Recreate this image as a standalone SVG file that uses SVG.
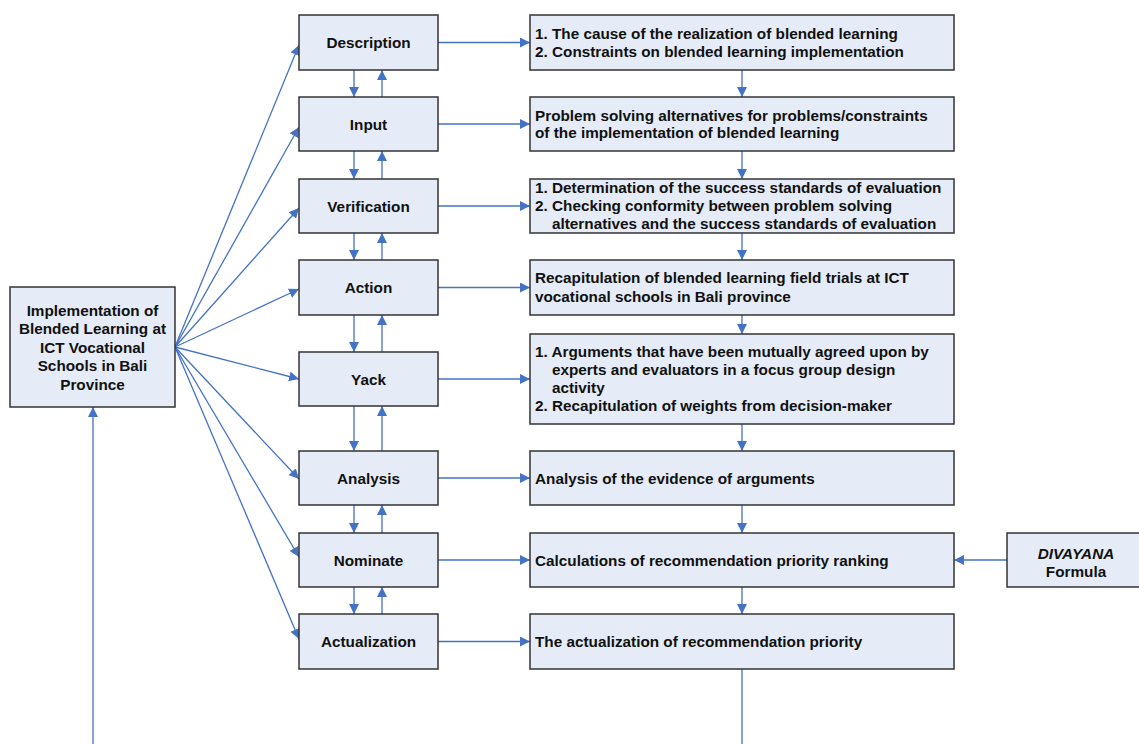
<svg xmlns="http://www.w3.org/2000/svg" width="1139" height="744" viewBox="0 0 1139 744">
<style>
.box{fill:#E5ECF7;stroke:#333;stroke-width:1.5}
.t{font-family:"Liberation Sans",Arial,sans-serif;font-weight:bold;font-size:15.3px;fill:#111}
.c{text-anchor:middle}
.ln{stroke:#4472C4;stroke-width:1.3;fill:none}
</style>
<defs>
<marker id="ah" markerUnits="userSpaceOnUse" markerWidth="10" markerHeight="10" refX="10" refY="5" orient="auto">
<path d="M0,0 L10,5 L0,10 z" fill="#4472C4"/>
</marker>
</defs>
<rect width="1139" height="744" fill="#fff"/>

<g id="connectors">
<line class="ln" x1="175" y1="347" x2="299" y2="45" marker-end="url(#ah)"/>
<line class="ln" x1="175" y1="347" x2="299" y2="127" marker-end="url(#ah)"/>
<line class="ln" x1="175" y1="347" x2="299" y2="208" marker-end="url(#ah)"/>
<line class="ln" x1="175" y1="347" x2="299" y2="289" marker-end="url(#ah)"/>
<line class="ln" x1="175" y1="347" x2="299" y2="379" marker-end="url(#ah)"/>
<line class="ln" x1="175" y1="347" x2="299" y2="479" marker-end="url(#ah)"/>
<line class="ln" x1="175" y1="347" x2="299" y2="557" marker-end="url(#ah)"/>
<line class="ln" x1="175" y1="347" x2="299" y2="639" marker-end="url(#ah)"/>
<line class="ln" x1="354" y1="70" x2="354" y2="97" marker-end="url(#ah)"/>
<line class="ln" x1="382" y1="97" x2="382" y2="70" marker-end="url(#ah)"/>
<line class="ln" x1="354" y1="151" x2="354" y2="179" marker-end="url(#ah)"/>
<line class="ln" x1="382" y1="179" x2="382" y2="151" marker-end="url(#ah)"/>
<line class="ln" x1="354" y1="233" x2="354" y2="260" marker-end="url(#ah)"/>
<line class="ln" x1="382" y1="260" x2="382" y2="233" marker-end="url(#ah)"/>
<line class="ln" x1="354" y1="315" x2="354" y2="352" marker-end="url(#ah)"/>
<line class="ln" x1="382" y1="352" x2="382" y2="315" marker-end="url(#ah)"/>
<line class="ln" x1="354" y1="406" x2="354" y2="451" marker-end="url(#ah)"/>
<line class="ln" x1="382" y1="451" x2="382" y2="406" marker-end="url(#ah)"/>
<line class="ln" x1="354" y1="505" x2="354" y2="533" marker-end="url(#ah)"/>
<line class="ln" x1="382" y1="533" x2="382" y2="505" marker-end="url(#ah)"/>
<line class="ln" x1="354" y1="587" x2="354" y2="614" marker-end="url(#ah)"/>
<line class="ln" x1="382" y1="614" x2="382" y2="587" marker-end="url(#ah)"/>
<line class="ln" x1="438" y1="42.5" x2="530" y2="42.5" marker-end="url(#ah)"/>
<line class="ln" x1="438" y1="124" x2="530" y2="124" marker-end="url(#ah)"/>
<line class="ln" x1="438" y1="206" x2="530" y2="206" marker-end="url(#ah)"/>
<line class="ln" x1="438" y1="287.5" x2="530" y2="287.5" marker-end="url(#ah)"/>
<line class="ln" x1="438" y1="379" x2="530" y2="379" marker-end="url(#ah)"/>
<line class="ln" x1="438" y1="478" x2="530" y2="478" marker-end="url(#ah)"/>
<line class="ln" x1="438" y1="560" x2="530" y2="560" marker-end="url(#ah)"/>
<line class="ln" x1="438" y1="641.5" x2="530" y2="641.5" marker-end="url(#ah)"/>
<line class="ln" x1="742" y1="70" x2="742" y2="97" marker-end="url(#ah)"/>
<line class="ln" x1="742" y1="151" x2="742" y2="179" marker-end="url(#ah)"/>
<line class="ln" x1="742" y1="233" x2="742" y2="260" marker-end="url(#ah)"/>
<line class="ln" x1="742" y1="315" x2="742" y2="334" marker-end="url(#ah)"/>
<line class="ln" x1="742" y1="424" x2="742" y2="451" marker-end="url(#ah)"/>
<line class="ln" x1="742" y1="505" x2="742" y2="533" marker-end="url(#ah)"/>
<line class="ln" x1="742" y1="587" x2="742" y2="614" marker-end="url(#ah)"/>
<line class="ln" x1="742" y1="669" x2="742" y2="744"/>
<line class="ln" x1="1007" y1="560" x2="954" y2="560" marker-end="url(#ah)"/>
<line class="ln" x1="93" y1="744" x2="93" y2="407" marker-end="url(#ah)"/>
</g>

<g id="n-impl">
<rect class="box" x="10" y="287" width="165" height="120"/>
<text class="t c" x="92.5" y="315.5">Implementation of</text>
<text class="t c" x="92.5" y="334">Blended Learning at</text>
<text class="t c" x="92.5" y="352.5">ICT Vocational</text>
<text class="t c" x="92.5" y="371">Schools in Bali</text>
<text class="t c" x="92.5" y="389.5">Province</text>
</g>

<g id="n-description"><rect class="box" x="299" y="15" width="139" height="55"/><text class="t c" x="368.5" y="48">Description</text></g>
<g id="n-input"><rect class="box" x="299" y="97" width="139" height="54"/><text class="t c" x="368.5" y="129.5">Input</text></g>
<g id="n-verification"><rect class="box" x="299" y="179" width="139" height="54"/><text class="t c" x="368.5" y="211.5">Verification</text></g>
<g id="n-action"><rect class="box" x="299" y="260" width="139" height="55"/><text class="t c" x="368.5" y="293">Action</text></g>
<g id="n-yack"><rect class="box" x="299" y="352" width="139" height="54"/><text class="t c" x="368.5" y="384.5">Yack</text></g>
<g id="n-analysis"><rect class="box" x="299" y="451" width="139" height="54"/><text class="t c" x="368.5" y="483.5">Analysis</text></g>
<g id="n-nominate"><rect class="box" x="299" y="533" width="139" height="54"/><text class="t c" x="368.5" y="565.5">Nominate</text></g>
<g id="n-actualization"><rect class="box" x="299" y="614" width="139" height="55"/><text class="t c" x="368.5" y="647">Actualization</text></g>

<g id="r-description">
<rect class="box" x="530" y="15" width="424" height="55"/>
<text class="t" x="535" y="38.5">1. The cause of the realization of blended learning</text>
<text class="t" x="535" y="56.5">2. Constraints on blended learning implementation</text>
</g>
<g id="r-input">
<rect class="box" x="530" y="97" width="424" height="54"/>
<text class="t" x="535" y="120.5">Problem solving alternatives for problems/constraints</text>
<text class="t" x="535" y="138">of the implementation of blended learning</text>
</g>
<g id="r-verification">
<rect class="box" x="530" y="179" width="424" height="54"/>
<text class="t" x="535" y="192.5">1. Determination of the success standards of evaluation</text>
<text class="t" x="535" y="211">2. Checking conformity between problem solving</text>
<text class="t" x="552" y="228.5">alternatives and the success standards of evaluation</text>
</g>
<g id="r-action">
<rect class="box" x="530" y="260" width="424" height="55"/>
<text class="t" x="535" y="283">Recapitulation of blended learning field trials at ICT</text>
<text class="t" x="535" y="302">vocational schools in Bali province</text>
</g>
<g id="r-yack">
<rect class="box" x="530" y="334" width="424" height="90"/>
<text class="t" x="535" y="356.5">1. Arguments that have been mutually agreed upon by</text>
<text class="t" x="552" y="374.5">experts and evaluators in a focus group design</text>
<text class="t" x="552" y="392.5">activity</text>
<text class="t" x="535" y="411">2. Recapitulation of weights from decision-maker</text>
</g>
<g id="r-analysis">
<rect class="box" x="530" y="451" width="424" height="54"/>
<text class="t" x="535" y="483.5">Analysis of the evidence of arguments</text>
</g>
<g id="r-nominate">
<rect class="box" x="530" y="533" width="424" height="54"/>
<text class="t" x="535" y="565.5">Calculations of recommendation priority ranking</text>
</g>
<g id="r-actualization">
<rect class="box" x="530" y="614" width="424" height="55"/>
<text class="t" x="535" y="647">The actualization of recommendation priority</text>
</g>
<g id="n-divayana">
<rect class="box" x="1007" y="533" width="140" height="54"/>
<text class="t c" x="1076" y="558.5" font-style="italic">DIVAYANA</text>
<text class="t c" x="1076" y="576.5">Formula</text>
</g>
</svg>
